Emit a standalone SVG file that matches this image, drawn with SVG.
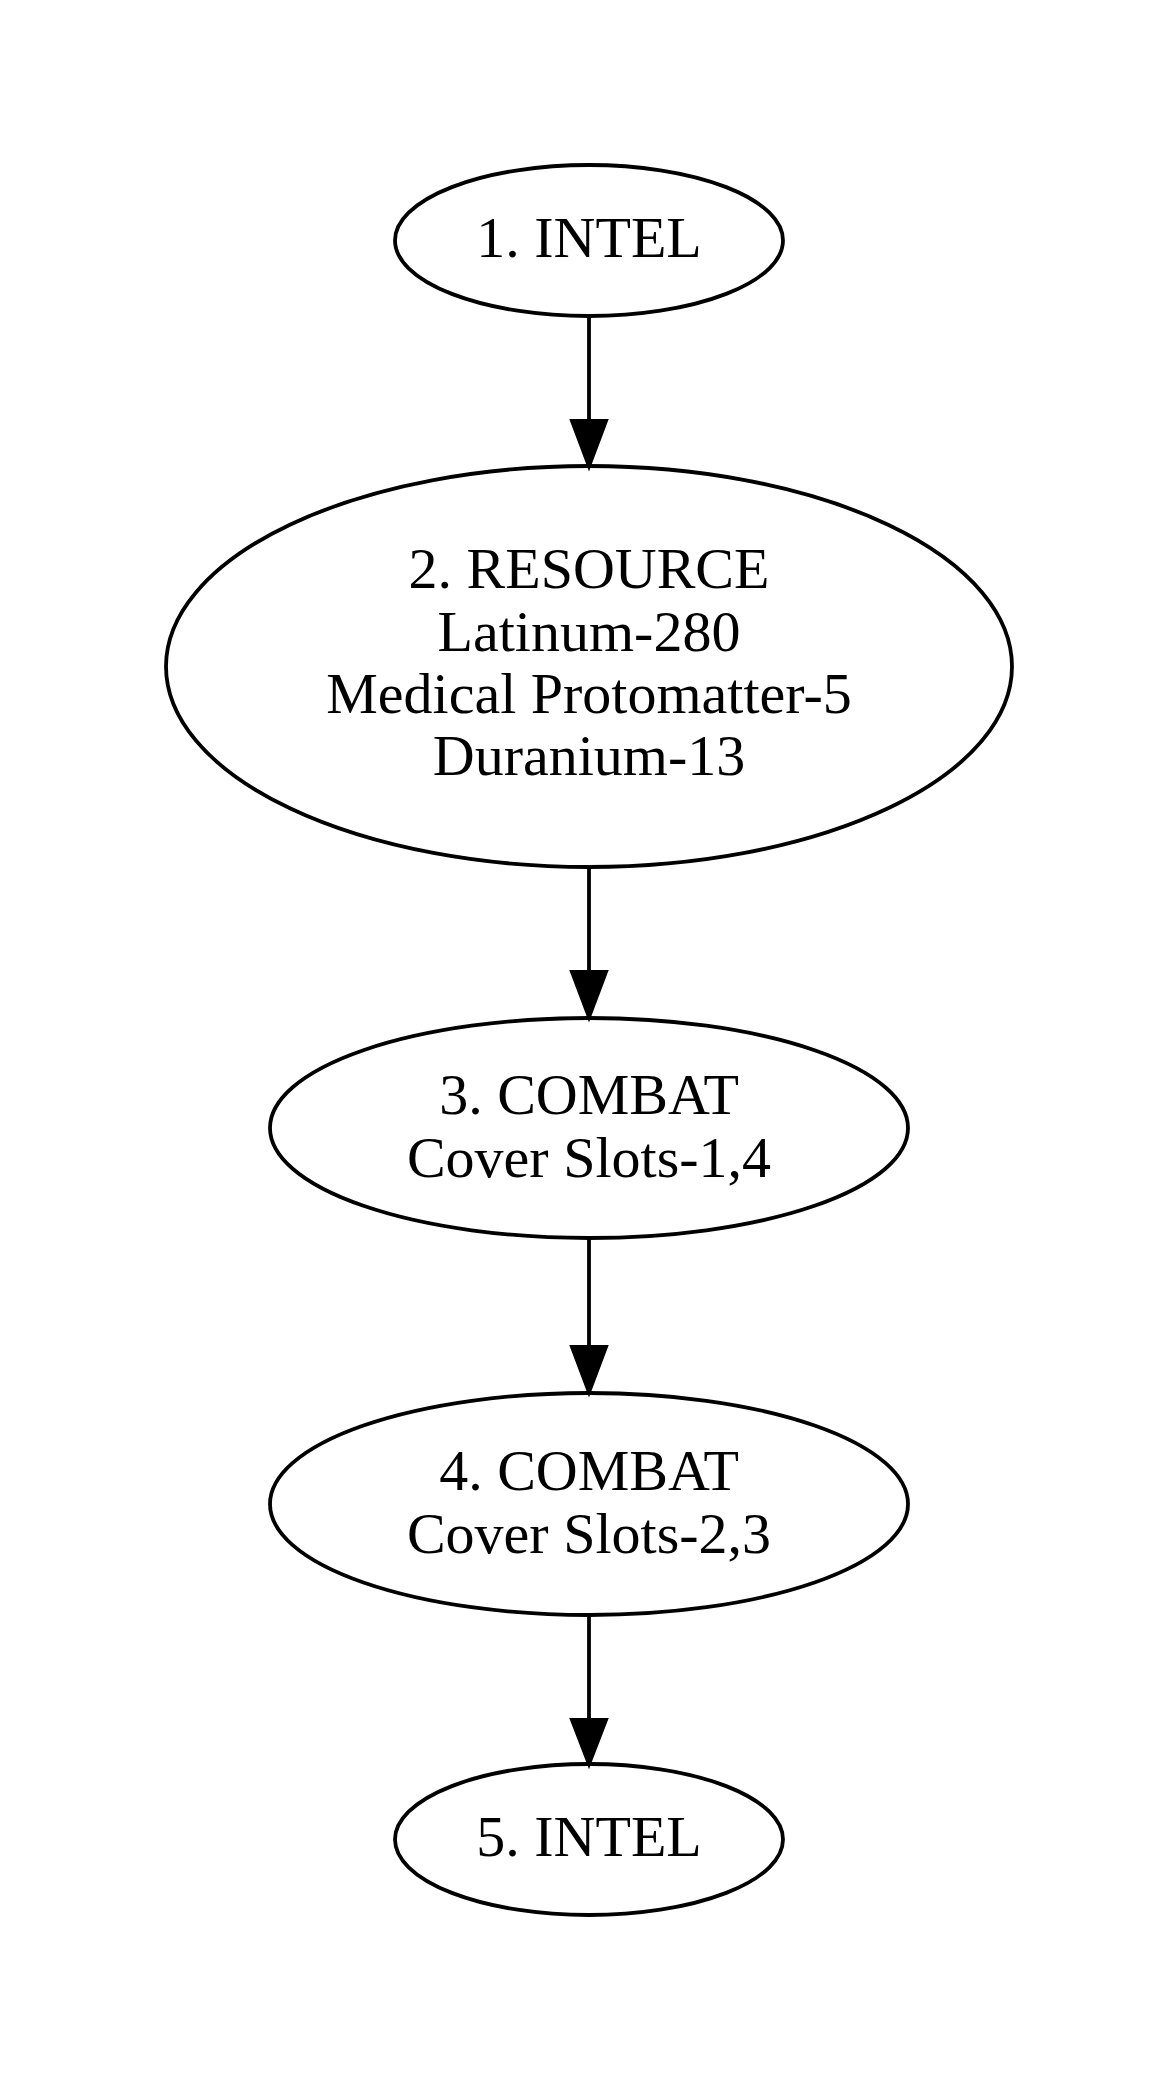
<svg xmlns="http://www.w3.org/2000/svg" width="1175" height="2084" viewBox="0 0 1175 2084">
<style>
.node ellipse{fill:none;stroke:#000;stroke-width:3.8}
.node text{font-family:"Liberation Serif","Times New Roman",serif;font-size:58px;fill:#000;text-anchor:middle}
.edge line{stroke:#000;stroke-width:3.8}
.edge polygon{fill:#000;stroke:#000;stroke-width:3.8}
</style>
<rect width="1175" height="2084" fill="#fff"/>
<g id="edges">
<g class="edge" id="e1_2"><line x1="589" y1="316" x2="589" y2="421"/><polygon points="572,421 606,421 589,466"/></g>
<g class="edge" id="e2_3"><line x1="589" y1="867" x2="589" y2="972"/><polygon points="572,972 606,972 589,1017"/></g>
<g class="edge" id="e3_4"><line x1="589" y1="1238" x2="589" y2="1347"/><polygon points="572,1347 606,1347 589,1392"/></g>
<g class="edge" id="e4_5"><line x1="589" y1="1615" x2="589" y2="1720"/><polygon points="572,1720 606,1720 589,1764"/></g>
</g>
<g class="node" id="n1"><ellipse cx="589" cy="240.5" rx="194" ry="75.5"/><text x="589" y="257">1. INTEL</text></g>
<g class="node" id="n2"><ellipse cx="589" cy="666.5" rx="423" ry="200.5"/>
<text x="589" y="588">2. RESOURCE</text>
<text x="589" y="651">Latinum-280</text>
<text x="589" y="713">Medical Protomatter-5</text>
<text x="589" y="775">Duranium-13</text></g>
<g class="node" id="n3"><ellipse cx="589" cy="1128" rx="319" ry="110"/>
<text x="589" y="1114">3. COMBAT</text>
<text x="589" y="1176.5">Cover Slots-1,4</text></g>
<g class="node" id="n4"><ellipse cx="589" cy="1504" rx="319" ry="111"/>
<text x="589" y="1490">4. COMBAT</text>
<text x="589" y="1552.5">Cover Slots-2,3</text></g>
<g class="node" id="n5"><ellipse cx="589" cy="1839.5" rx="194" ry="75.5"/><text x="589" y="1856">5. INTEL</text></g>
</svg>
